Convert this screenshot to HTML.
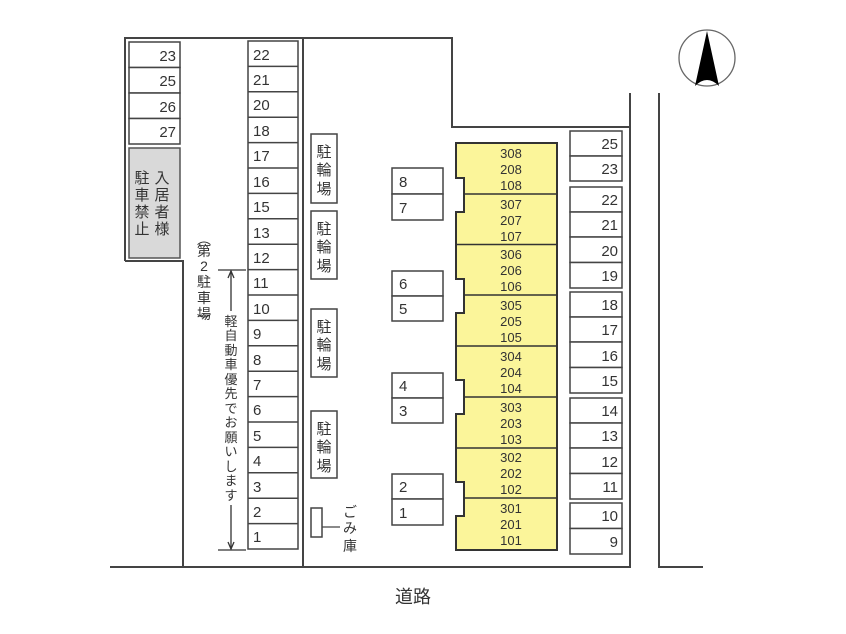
<!DOCTYPE html>
<html><head><meta charset="utf-8"><style>
html,body{margin:0;padding:0;background:#fff;}
svg{display:block;}
text{font-family:"Liberation Sans","Noto Sans CJK JP",sans-serif;fill:#333;}
</style></head><body>
<svg width="846" height="634" viewBox="0 0 846 634" xmlns="http://www.w3.org/2000/svg">
<g stroke="#444" stroke-width="2" fill="none">
<polyline points="125,261 125,38 452,38 452,127 630,127"/>
<polyline points="125,261 183,261 183,567"/>
<line x1="303" y1="38" x2="303" y2="567"/>
<line x1="630" y1="93" x2="630" y2="568"/>
<polyline points="659,93 659,567 703,567"/>
<line x1="110" y1="567" x2="631" y2="567"/>
</g>
<g stroke="#444" stroke-width="1.5" fill="#fff">
<rect x="129" y="42" width="51" height="25.5"/><rect x="129" y="67.5" width="51" height="25.5"/>
<rect x="129" y="93" width="51" height="25.5"/><rect x="129" y="118.5" width="51" height="25.5"/>
</g>
<rect x="129" y="148" width="51" height="110" fill="#d9d9d9" stroke="#555" stroke-width="1.5"/>
<g font-size="15" text-anchor="end">
<text x="176" y="61">23</text><text x="176" y="86">25</text><text x="176" y="112">26</text><text x="176" y="137">27</text>
</g>
<g font-size="15" text-anchor="middle">
<text x="142" y="183">駐</text><text x="162" y="183">入</text>
<text x="142" y="200">車</text><text x="162" y="200">居</text>
<text x="142" y="217">禁</text><text x="162" y="217">者</text>
<text x="142" y="234">止</text><text x="162" y="234">様</text>
</g>
<g stroke="#444" stroke-width="1.5" fill="#fff">
<rect x="248" y="41" width="50" height="508"/>
</g>
<g stroke="#444" stroke-width="1.5">
<line x1="248" y1="66.4" x2="298" y2="66.4"/><line x1="248" y1="91.8" x2="298" y2="91.8"/>
<line x1="248" y1="117.2" x2="298" y2="117.2"/><line x1="248" y1="142.6" x2="298" y2="142.6"/>
<line x1="248" y1="168" x2="298" y2="168"/><line x1="248" y1="193.4" x2="298" y2="193.4"/>
<line x1="248" y1="218.8" x2="298" y2="218.8"/><line x1="248" y1="244.2" x2="298" y2="244.2"/>
<line x1="248" y1="269.6" x2="298" y2="269.6"/><line x1="248" y1="295" x2="298" y2="295"/>
<line x1="248" y1="320.4" x2="298" y2="320.4"/><line x1="248" y1="345.8" x2="298" y2="345.8"/>
<line x1="248" y1="371.2" x2="298" y2="371.2"/><line x1="248" y1="396.6" x2="298" y2="396.6"/>
<line x1="248" y1="422" x2="298" y2="422"/><line x1="248" y1="447.4" x2="298" y2="447.4"/>
<line x1="248" y1="472.8" x2="298" y2="472.8"/><line x1="248" y1="498.2" x2="298" y2="498.2"/>
<line x1="248" y1="523.6" x2="298" y2="523.6"/>
</g>
<g font-size="15">
<text x="253" y="60">22</text><text x="253" y="85">21</text><text x="253" y="110">20</text><text x="253" y="136">18</text>
<text x="253" y="161">17</text><text x="253" y="187">16</text><text x="253" y="212">15</text><text x="253" y="238">13</text>
<text x="253" y="263">12</text><text x="253" y="288">11</text><text x="253" y="314">10</text><text x="253" y="339">9</text>
<text x="253" y="365">8</text><text x="253" y="390">7</text><text x="253" y="415">6</text><text x="253" y="441">5</text>
<text x="253" y="466">4</text><text x="253" y="492">3</text><text x="253" y="517">2</text><text x="253" y="542">1</text>
</g>
<g font-size="14" text-anchor="middle">
<text x="204" y="244">︵</text><text x="204" y="256">第</text><text x="204" y="271">2</text><text x="204" y="287">駐</text>
<text x="204" y="303">車</text><text x="204" y="319">場</text><text x="204" y="326">︶</text>
</g>
<g stroke="#333" stroke-width="1.3" fill="none">
<line x1="218" y1="270" x2="246" y2="270"/><line x1="218" y1="550" x2="246" y2="550"/>
<line x1="231" y1="271" x2="231" y2="311"/><line x1="231" y1="505" x2="231" y2="549"/>
<polyline points="228,278 231,271 234,278"/><polyline points="228,542 231,549 234,542"/>
</g>
<g font-size="13" text-anchor="middle">
<text x="231" y="326">軽</text><text x="231" y="340">自</text><text x="231" y="355">動</text><text x="231" y="369">車</text>
<text x="231" y="384">優</text><text x="231" y="398">先</text><text x="231" y="413">で</text><text x="231" y="427">お</text>
<text x="231" y="442">願</text><text x="231" y="456">い</text><text x="231" y="471">し</text><text x="231" y="485">ま</text>
<text x="231" y="500">す</text>
</g>
<g stroke="#444" stroke-width="1.5" fill="#fff">
<rect x="311" y="134" width="26" height="69"/><rect x="311" y="211" width="26" height="68"/>
<rect x="311" y="309" width="26" height="68"/><rect x="311" y="411" width="26" height="67"/>
<rect x="311" y="508" width="11" height="29"/>
</g>
<line x1="322" y1="527" x2="340" y2="527" stroke="#444" stroke-width="1.3"/>
<g font-size="15" text-anchor="middle">
<text x="324" y="157">駐</text><text x="324" y="175">輪</text><text x="324" y="194">場</text>
<text x="324" y="234">駐</text><text x="324" y="252">輪</text><text x="324" y="271">場</text>
<text x="324" y="332">駐</text><text x="324" y="350">輪</text><text x="324" y="369">場</text>
<text x="324" y="434">駐</text><text x="324" y="452">輪</text><text x="324" y="471">場</text>
</g>
<g font-size="14" text-anchor="middle">
<text x="350" y="517">ご</text><text x="350" y="533">み</text><text x="350" y="551">庫</text>
</g>
<g stroke="#444" stroke-width="1.5" fill="#fff">
<rect x="392" y="168" width="51" height="26"/><rect x="392" y="194" width="51" height="26"/>
<rect x="392" y="271" width="51" height="25"/><rect x="392" y="296" width="51" height="25"/>
<rect x="392" y="373" width="51" height="25"/><rect x="392" y="398" width="51" height="25"/>
<rect x="392" y="474" width="51" height="25"/><rect x="392" y="499" width="51" height="26"/>
</g>
<g font-size="15">
<text x="399" y="187">8</text><text x="399" y="213">7</text>
<text x="399" y="289">6</text><text x="399" y="314">5</text>
<text x="399" y="391">4</text><text x="399" y="416">3</text>
<text x="399" y="492">2</text><text x="399" y="518">1</text>
</g>
<path d="M456,143 H557 V550 H456 V516 H464 V482 H456 V414 H464 V380 H456 V313 H464 V279 H456 V212 H464 V178 H456 Z" fill="#fbf59a" stroke="#333" stroke-width="2"/>
<g stroke="#333" stroke-width="1.5">
<line x1="464" y1="194" x2="557" y2="194"/><line x1="456" y1="244.5" x2="557" y2="244.5"/>
<line x1="464" y1="295" x2="557" y2="295"/><line x1="456" y1="346" x2="557" y2="346"/>
<line x1="464" y1="397" x2="557" y2="397"/><line x1="456" y1="448" x2="557" y2="448"/>
<line x1="464" y1="498" x2="557" y2="498"/>
</g>
<g font-size="13" text-anchor="middle" fill="#333">
<text x="511" y="158">308</text><text x="511" y="174">208</text><text x="511" y="190">108</text>
<text x="511" y="209">307</text><text x="511" y="225">207</text><text x="511" y="241">107</text>
<text x="511" y="259">306</text><text x="511" y="275">206</text><text x="511" y="291">106</text>
<text x="511" y="310">305</text><text x="511" y="326">205</text><text x="511" y="342">105</text>
<text x="511" y="361">304</text><text x="511" y="377">204</text><text x="511" y="393">104</text>
<text x="511" y="412">303</text><text x="511" y="428">203</text><text x="511" y="444">103</text>
<text x="511" y="462">302</text><text x="511" y="478">202</text><text x="511" y="494">102</text>
<text x="511" y="513">301</text><text x="511" y="529">201</text><text x="511" y="545">101</text>
</g>
<g stroke="#444" stroke-width="1.5" fill="#fff">
<rect x="570" y="131" width="52" height="25"/><rect x="570" y="156" width="52" height="25"/>
<rect x="570" y="187" width="52" height="25"/><rect x="570" y="212" width="52" height="25"/>
<rect x="570" y="237" width="52" height="25.5"/><rect x="570" y="262.5" width="52" height="25.5"/>
<rect x="570" y="292" width="52" height="25"/><rect x="570" y="317" width="52" height="25"/>
<rect x="570" y="342" width="52" height="25.5"/><rect x="570" y="367.5" width="52" height="25.5"/>
<rect x="570" y="398" width="52" height="25"/><rect x="570" y="423" width="52" height="25"/>
<rect x="570" y="448" width="52" height="25.5"/><rect x="570" y="473.5" width="52" height="25.5"/>
<rect x="570" y="503" width="52" height="25.5"/><rect x="570" y="528.5" width="52" height="25.5"/>
</g>
<g font-size="15" text-anchor="end">
<text x="618" y="149">25</text><text x="618" y="174">23</text>
<text x="618" y="205">22</text><text x="618" y="230">21</text><text x="618" y="256">20</text><text x="618" y="281">19</text>
<text x="618" y="310">18</text><text x="618" y="335">17</text><text x="618" y="361">16</text><text x="618" y="386">15</text>
<text x="618" y="416">14</text><text x="618" y="441">13</text><text x="618" y="467">12</text><text x="618" y="492">11</text>
<text x="618" y="521">10</text><text x="618" y="547">9</text>
</g>
<circle cx="707" cy="58" r="28" fill="none" stroke="#666" stroke-width="1.3"/>
<path d="M707,31 L719,86 Q707,74 695,86 Z" fill="#000"/>
<text x="413" y="603" font-size="18" text-anchor="middle">道路</text>
</svg>
</body></html>
